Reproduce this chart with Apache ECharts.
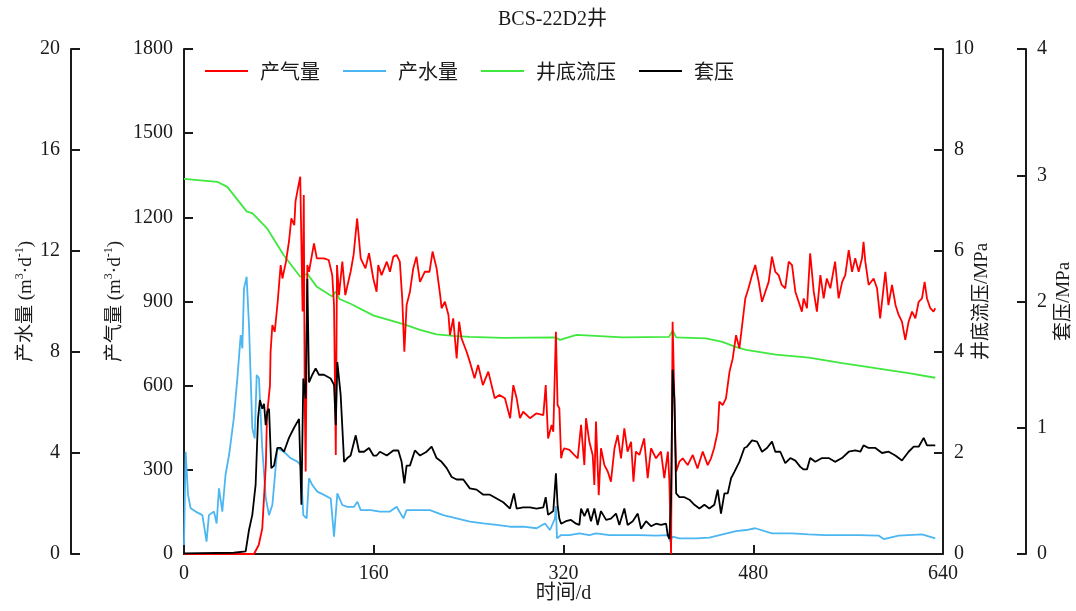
<!DOCTYPE html>
<html><head><meta charset="utf-8">
<script src="https://cdn.jsdelivr.net/npm/echarts@6/dist/echarts.min.js"></script>
<style>html,body{margin:0;padding:0;background:#fff;overflow:hidden;width:1076px;height:611px}#c{position:absolute;left:0;top:0;width:1076px;height:611px}</style>
</head><body><div id="c"></div>
<script>
// ---- data ----
const gasDays = [0,30,59,63,66,69,70,72.5,73,74.5,76.5,79,81.5,83,86,88.5,90.5,93,94,95.5,98,100,101,101.8,102.6,104,105.4,109.6,112,118,122,125,126.5,128,129,130.7,133.5,136,140.5,143,146,149,153,156,159.6,162.4,163.8,166.6,171,173.7,176.5,179.3,182,184,185.8,187.7,190.5,193.3,196,199,203,207,209.6,213,216,217.2,220,223,224.3,227,229.9,232,234,238.3,241,245,248,252,256.6,262,266,270.6,275,277.7,280.5,283.3,286,291.7,297,303,305,307,310,311.4,313.6,315,316.5,318,319.3,320.7,325,329,332,334.8,337.6,339,341.8,344.6,346,347.4,349.7,351.6,354.5,357.3,360,363,365.7,368.5,371.3,374,377,379,381,384,388,391,393.8,398,402.2,405,408,409.3,410.7,412,413.5,415,417.7,420.5,424.7,429,433,437.4,441.6,444.4,447,450,451.4,454.2,457,460,462.7,465.5,468.3,471,473.3,476,479,481.7,484.6,487.4,490.2,493,495.8,498.6,501.4,504,507,509.9,512.7,515.5,518.3,521,522.5,525.3,528,531,533.7,536.6,539.4,542,545,549,552,555,557.6,560.5,563.3,566,568.9,571.7,573,574.5,577.3,581.5,584.4,587,591.4,594,597,600,602.6,605.4,608.2,611,613.9,616.7,619.5,622.3,624.5,626.5,629.3,632,633.5];
const gasValues = [0,0,0,32,91,317,495,602,721,816,792,899,1030,982,1042,1113,1196,1172,1256,1291,1345,864,1280,555,294,1030,1006,1107,1054,1054,1048,994,887,353,1030,923,1042,923,1006,1066,1196,1054,1018,1072,982,935,1030,994,1042,1006,1060,1066,1042,911,721,887,935,1018,1060,970,1006,1006,1078,1018,923,876,899,852,780,840,697,828,769,721,685,626,674,602,650,555,567,555,484,602,555,484,507,484,501,495,602,412,460,436,792,531,519,341,365,377,371,353,341,460,317,484,400,353,246,472,210,377,317,294,258,377,424,341,448,365,400,258,365,353,412,270,377,341,365,270,365,258,0,828,555,294,329,341,317,353,305,365,317,341,377,436,543,531,555,650,697,780,733,828,911,947,994,1030,970,899,935,970,1060,1006,994,959,947,1042,1030,935,899,864,911,876,1072,935,864,994,911,982,947,1042,911,970,994,1083,1006,1054,1006,1054,1113,1042,959,982,947,840,1006,887,959,887,852,828,763,828,864,840,899,911,970,911,876,864,876];

const waterDays = [0,1.4,3.4,5.6,9.8,15.5,19,21,25.3,27.5,29.5,32.3,35,38,42,45,47.8,49.2,50.6,52.8,54.8,57.6,59.6,61.3,63.2,66,69,71.7,74.5,78.7,84.3,90,95.6,98.4,100.6,103.4,105.4,108.2,112.4,118,123.7,126.5,129.3,133.5,137.7,143.4,146.2,149,157.4,165.2,173.7,179.3,185,187.7,196.2,207.4,218.6,229.9,241.1,252.4,263.6,274.9,286,297.3,304.4,308.6,312.8,313.6,314.5,318,325,333.4,341.8,347.4,358.7,370,384,398,408,410,412,417.7,431.8,443,454.2,465.5,474,481.7,495.8,512.7,526.7,540.8,554.8,568.9,585.7,590,602.6,622.3,633.5];
const waterValues = [0.36,4.05,2.34,1.81,1.68,1.54,0.49,1.54,1.68,1.21,2.6,1.68,3.13,3.92,5.37,6.96,8.67,8.14,10.52,10.98,9.07,4.98,4.58,7.09,6.96,4.18,2.2,1.54,1.94,4.18,4.05,3.79,3.66,3.52,1.54,1.41,3.0,2.73,2.47,2.34,2.2,0.69,2.4,1.94,1.87,1.87,2.07,1.74,1.74,1.68,1.68,1.87,1.41,1.74,1.74,1.74,1.54,1.41,1.28,1.21,1.15,1.08,1.08,1.02,1.21,0.95,1.41,1.9,0.62,0.75,0.75,0.82,0.75,0.82,0.75,0.75,0.75,0.73,0.75,0.49,0.69,0.62,0.62,0.65,0.78,0.91,0.95,1.02,0.82,0.82,0.78,0.75,0.75,0.75,0.73,0.59,0.73,0.78,0.62];

const bhpDays = [0,28,36.5,53,57.6,70,84,98,104,112,125,128,131,140,160,185,199,213,227,241,269,313,317,331,370,409,412,415,440,454,465,474,499,527,555,583,611,633.5];
const bhpValues = [7.43,7.37,7.27,6.78,6.75,6.45,5.92,5.49,5.55,5.29,5.1,5.2,5.05,4.96,4.72,4.55,4.44,4.35,4.32,4.3,4.28,4.29,4.24,4.34,4.29,4.3,4.42,4.29,4.27,4.2,4.1,4.04,3.95,3.89,3.78,3.68,3.58,3.49];

const casingDays = [0,42,52,54.8,57.6,60.4,62.4,64,66,67.5,68.9,70.3,71.7,73.6,75.9,78.7,81.5,84.3,88.5,92.8,97,99,100.6,102.6,104,105.4,108.2,111,113.8,118,123.7,126.5,128,129.3,132.1,135,137.7,140.5,144.8,147.6,151.8,156,159.7,162.4,165.2,171,176.5,180.7,183.5,185.8,187.7,190.5,194.7,199,204.6,208.8,213,217.2,221.5,225.7,229.9,235.5,241,246.7,252.4,258,263.6,269.2,274.9,278.2,280.5,286,291.7,297.3,303,305,307,311.4,313.6,315,316.5,318,322,326.3,330.6,333.4,334.8,337.6,340.4,343.2,346,348.8,351.6,355.9,360,364.3,367.1,371.3,374.1,378.4,382.6,385.4,389.6,393.8,398,402.2,406.5,407.9,409.3,410.7,412,413.5,415,417.7,422,426.2,430.4,434.6,438.8,443,447.2,450,452.8,455.7,458.5,461.3,464.1,468.3,472.5,474.7,479,483.2,487.4,491.6,495.8,498.6,502.8,507,511.3,515.5,519.7,522.5,525.3,528,532.3,538,543.6,549,554.8,560.5,566,570.3,573,577.3,583,588.6,594.2,599.8,605.4,611,615.3,619.5,623.7,626.5,633.5];
const casingValues = [0.005,0.01,0.02,0.19,0.31,0.55,1.07,1.22,1.15,1.19,1.02,1.13,1.15,0.68,0.7,0.84,0.84,0.81,0.92,1.0,1.07,0.39,1.39,1.23,2.18,1.36,1.42,1.47,1.42,1.42,1.39,1.34,1.02,1.52,1.26,0.73,0.76,0.78,0.94,0.81,0.81,0.84,0.78,0.78,0.81,0.78,0.82,0.82,0.73,0.56,0.7,0.7,0.82,0.78,0.81,0.85,0.76,0.73,0.68,0.61,0.59,0.59,0.52,0.51,0.47,0.47,0.44,0.41,0.36,0.48,0.36,0.37,0.37,0.36,0.37,0.45,0.31,0.34,0.64,0.39,0.28,0.24,0.26,0.27,0.24,0.23,0.36,0.3,0.36,0.26,0.36,0.23,0.34,0.27,0.28,0.32,0.23,0.36,0.23,0.26,0.32,0.2,0.26,0.22,0.24,0.23,0.24,0.15,0.12,0.44,1.46,1.23,0.48,0.45,0.45,0.43,0.39,0.36,0.39,0.36,0.39,0.51,0.32,0.48,0.48,0.6,0.65,0.73,0.84,0.85,0.9,0.89,0.81,0.84,0.89,0.81,0.81,0.72,0.76,0.74,0.69,0.67,0.67,0.76,0.73,0.76,0.76,0.73,0.76,0.81,0.82,0.81,0.86,0.84,0.84,0.8,0.81,0.78,0.74,0.81,0.85,0.85,0.92,0.86,0.86];

const seriesNames = ['产气量','产水量','井底流压','套压'];
const xTicks = {min:0, max:640, interval:160};

function zip(a,b){return a.map((d,i)=>[d,b[i]]);}

const SERIF = "'Liberation Serif','Noto Sans CJK SC',serif";
const axisCol = '#1a1a1a';
function yAx(o){
  return Object.assign({
    type:'value',
    splitLine:{show:false},
    axisLine:{show:true,onZero:false,lineStyle:{color:axisCol,width:2}},
    axisTick:{show:true,inside:true,length:9,lineStyle:{color:axisCol,width:2}},
    axisLabel:{fontSize:20,fontFamily:SERIF,color:axisCol,margin:11,showMinLabel:true,showMaxLabel:true,formatter:v=>String(v)},
    nameLocation:'middle',
    nameRotate:90,
    nameMoveOverlap:false,
    nameTextStyle:{fontSize:19,fontFamily:SERIF,color:axisCol,
      rich:{a:{fontSize:19,fontFamily:SERIF,color:axisCol,lineHeight:24},
            s:{fontSize:12,fontFamily:SERIF,color:axisCol,verticalAlign:'top',lineHeight:24}}}
  },o);
}

const chart = echarts.init(document.getElementById('c'),null,{renderer:'canvas',width:1076,height:611});
chart.setOption({
  animation:false,
  backgroundColor:'#fff',
  title:{text:'BCS-22D2井',left:493,top:5,textStyle:{fontSize:20,fontWeight:'normal',fontFamily:SERIF,color:axisCol}},
  legend:{
    data:seriesNames,left:200,top:56,icon:'rect',itemWidth:43,itemHeight:2,itemGap:23,
    textStyle:{fontSize:20,fontFamily:"'Noto Sans CJK SC',sans-serif",color:axisCol,padding:[0,0,0,7]}
  },
  grid:{left:184,right:133,top:49,bottom:57,containLabel:false,outerBoundsMode:'none'},
  xAxis:{
    type:'value',min:xTicks.min,max:xTicks.max,interval:xTicks.interval,
    name:'时间/d',nameLocation:'middle',nameGap:30,nameMoveOverlap:false,
    nameTextStyle:{fontSize:20,fontFamily:SERIF,color:axisCol},
    splitLine:{show:false},
    axisLine:{show:true,onZero:false,lineStyle:{color:axisCol,width:2}},
    axisTick:{show:true,inside:true,length:9,lineStyle:{color:axisCol,width:2}},
    axisLabel:{fontSize:20,fontFamily:SERIF,color:axisCol,margin:10,showMinLabel:true,showMaxLabel:true,formatter:v=>String(v)}
  },
  yAxis:[
    yAx({min:0,max:1800,interval:300,position:'left',offset:0,name:'{a|产气量 (m}{s|3}{a|·d}{s|-1}{a|)}',nameGap:57}),
    yAx({min:0,max:20,interval:4,position:'left',offset:113,name:'{a|产水量 (m}{s|3}{a|·d}{s|-1}{a|)}',nameGap:33}),
    yAx({min:0,max:10,interval:2,position:'right',offset:0,name:'井底流压/MPa',nameGap:30}),
    yAx({min:0,max:4,interval:1,position:'right',offset:83,name:'套压/MPa',nameGap:29})
  ],
  series:[
    {name:'产水量',type:'line',yAxisIndex:1,data:zip(waterDays,waterValues),symbol:'none',lineStyle:{color:'#4cb6f2',width:1.8},itemStyle:{color:'#4cb6f2'}},
    {name:'井底流压',type:'line',yAxisIndex:2,data:zip(bhpDays,bhpValues),symbol:'none',lineStyle:{color:'#3ee83e',width:1.8},itemStyle:{color:'#3ee83e'}},
    {name:'产气量',type:'line',yAxisIndex:0,data:zip(gasDays,gasValues),symbol:'none',lineStyle:{color:'#ff0000',width:1.8},itemStyle:{color:'#ff0000'}},
    {name:'套压',type:'line',yAxisIndex:3,data:zip(casingDays,casingValues),symbol:'none',lineStyle:{color:'#000000',width:1.8},itemStyle:{color:'#000000'}}
  ]
});
</script></body></html>
